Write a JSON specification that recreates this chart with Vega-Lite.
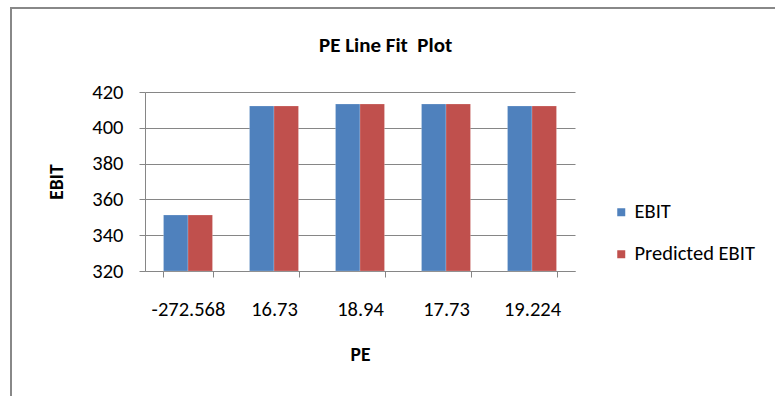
{
  "$schema": "https://vega.github.io/schema/vega-lite/v6.json",
  "width": 775,
  "height": 395,
  "autosize": {"type": "none"},
  "padding": {"left": 11, "top": 8, "right": -11, "bottom": -7},
  "background": "#ffffff",
  "title": {
    "text": "PE Line Fit \u00a0Plot",
    "orient": "top",
    "anchor": "start",
    "frame": "group",
    "baseline": "alphabetic",
    "offset": -65,
    "dx": 308,
    "font": "Carlito, Lato, sans-serif",
    "fontSize": 21,
    "fontWeight": "bold",
    "color": "#000000"
  },
  "data": {
    "values": [
      {"PE": "-272.568", "series": "EBIT", "value": 351.3},
      {"PE": "-272.568", "series": "Predicted EBIT", "value": 351.3},
      {"PE": "16.73", "series": "EBIT", "value": 412.2},
      {"PE": "16.73", "series": "Predicted EBIT", "value": 412.2},
      {"PE": "18.94", "series": "EBIT", "value": 413.3},
      {"PE": "18.94", "series": "Predicted EBIT", "value": 413.3},
      {"PE": "17.73", "series": "EBIT", "value": 413.3},
      {"PE": "17.73", "series": "Predicted EBIT", "value": 413.3},
      {"PE": "19.224", "series": "EBIT", "value": 412.2},
      {"PE": "19.224", "series": "Predicted EBIT", "value": 412.2}
    ]
  },
  "mark": {"type": "bar", "stroke": "#ffffff", "strokeOpacity": 0.35, "strokeWidth": 0.6},
  "encoding": {
    "x": {
      "field": "PE",
      "type": "nominal",
      "sort": null,
      "scale": {"range": [134, 564], "paddingInner": 0.43, "paddingOuter": 0.215},
      "axis": {
        "title": "PE",
        "titleY": 83,
        "titleBaseline": "middle",
        "offset": -132,
        "labelAngle": 0,
        "labelBaseline": "middle",
        "labelPadding": 32,
        "tickBand": "extent",
        "tickSize": 6,
        "grid": false
      }
    },
    "xOffset": {"field": "series", "type": "nominal", "sort": ["EBIT", "Predicted EBIT"]},
    "y": {
      "field": "value",
      "type": "quantitative",
      "scale": {"domain": [320, 420], "range": [263, 84], "nice": false, "zero": false},
      "axis": {
        "title": "EBIT",
        "titleX": -89,
        "titleBaseline": "middle",
        "offset": -134,
        "values": [320, 340, 360, 380, 400, 420],
        "tickSize": 6,
        "labelPadding": 16,
        "grid": true
      }
    },
    "y2": {"datum": 320},
    "color": {
      "field": "series",
      "type": "nominal",
      "scale": {"domain": ["EBIT", "Predicted EBIT"], "range": ["#4F81BD", "#C0504D"]},
      "legend": {
        "title": null,
        "orient": "none",
        "legendX": 600,
        "legendY": 194,
        "padding": 0,
        "symbolType": "square",
        "symbolSize": 64,
        "symbolStrokeWidth": 0,
        "labelOffset": 3,
        "rowPadding": 21,
        "labelFontSize": 20.5,
        "labelColor": "#000000",
        "labelFont": "Carlito, Lato, sans-serif"
      }
    }
  },
  "config": {
    "font": "Carlito, Lato, sans-serif",
    "view": {"stroke": "#888888", "strokeWidth": 2},
    "axis": {
      "domainColor": "#868686",
      "domainWidth": 1,
      "tickColor": "#868686",
      "tickWidth": 1,
      "gridColor": "#868686",
      "gridWidth": 1,
      "gridOpacity": 1,
      "labelFont": "Carlito, Lato, sans-serif",
      "labelFontSize": 20.5,
      "labelColor": "#000000",
      "titleFont": "Carlito, Lato, sans-serif",
      "titleFontSize": 19.5,
      "titleFontWeight": "bold",
      "titleColor": "#000000"
    }
  }
}
